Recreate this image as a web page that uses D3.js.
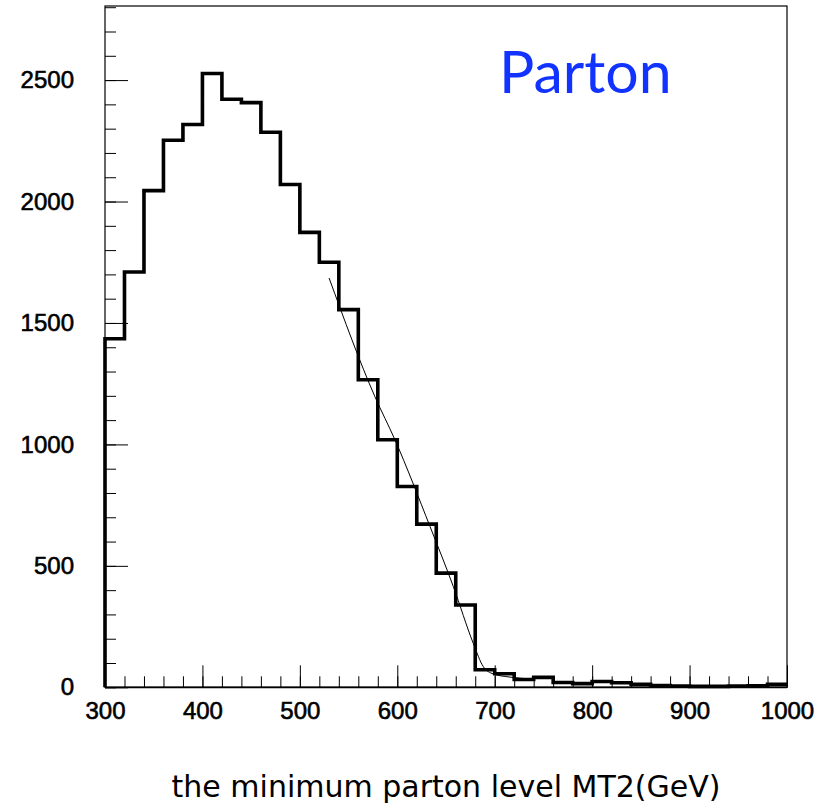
<!DOCTYPE html>
<html>
<head>
<meta charset="utf-8">
<script src="https://cdn.jsdelivr.net/npm/d3@7"></script>
<style>
  html, body { margin: 0; padding: 0; background: #fff; }
  svg { display: block; }
</style>
</head>
<body>
<svg id="chart" width="825" height="810"></svg>
<script>
// ---- data ----
const binStart = 300, binWidth = 20;
const binLows = d3.range(300, 1000, 20);
const counts = [1435, 1710, 2045, 2252, 2317, 2527, 2421, 2407, 2285, 2070,
                1873, 1750, 1555, 1266, 1019, 827, 672, 470, 339, 72,
                56, 32, 41, 20, 15, 24, 19, 12, 7, 5,
                4, 4, 5, 6, 12];
const fitX = [530, 577, 597.6, 633.6, 657.5, 678, 688.3, 698.5, 715.7, 739.3];
const fitY = [1685, 1197, 1019, 662, 415, 181, 85, 55, 42, 34];
const xMajor = [300, 400, 500, 600, 700, 800, 900, 1000];
const xMinor = d3.range(300, 1001, 20);
const yMajor = [0, 500, 1000, 1500, 2000, 2500];
const yMinor = d3.range(0, 2801, 100);
const xTitle = "the minimum parton level MT2(GeV)";
const label = "Parton";

// ---- layout ----
const L = 105, R = 787, T = 6, B = 687.3;
const svg = d3.select("#chart");
const x = d3.scaleLinear().domain([300, 1000]).range([L, R]);
const y = d3.scaleLinear().domain([0, 2805]).range([B, T]);

// frame
svg.append("rect").attr("x", L).attr("y", T).attr("width", R - L).attr("height", B - T)
  .attr("fill", "none").attr("stroke", "#000").attr("stroke-width", 1.2);
svg.append("line").attr("x1", L).attr("x2", R).attr("y1", B).attr("y2", B)
  .attr("stroke", "#000").attr("stroke-width", 1.8);

// y ticks
const gyMinor = svg.append("g").attr("transform", `translate(${L},0)`)
  .call(d3.axisRight(y).tickValues(yMinor).tickSize(11).tickFormat(""));
const gyMajor = svg.append("g").attr("transform", `translate(${L},0)`)
  .call(d3.axisRight(y).tickValues(yMajor).tickSize(23).tickFormat(""));
const gyLab = svg.append("g").attr("transform", `translate(${L},0)`)
  .call(d3.axisLeft(y).tickValues(yMajor).tickSize(0).tickPadding(31).tickFormat(d3.format("d")));
// x ticks
const gxMinor = svg.append("g").attr("transform", `translate(0,${B})`)
  .call(d3.axisTop(x).tickValues(xMinor).tickSize(11).tickFormat(""));
const gxMajor = svg.append("g").attr("transform", `translate(0,${B})`)
  .call(d3.axisTop(x).tickValues(xMajor).tickSize(22).tickFormat(""));
const gxLab = svg.append("g").attr("transform", `translate(0,${B})`)
  .call(d3.axisBottom(x).tickValues(xMajor).tickSize(0).tickPadding(15).tickFormat(d3.format("d")));

[gyMinor, gyMajor, gyLab, gxMinor, gxMajor, gxLab].forEach(g => {
  g.select(".domain").remove();
  g.selectAll(".tick line").attr("stroke", "#000").attr("stroke-width", 1);
  g.selectAll("text").attr("font-family", "'Liberation Sans', Arial, sans-serif")
    .attr("font-size", 24).attr("fill", "#000")
    .attr("stroke", "#000").attr("stroke-width", 0.6);
});

// histogram step path
const pts = [[binStart, 0]];
counts.forEach((c, i) => {
  pts.push([binLows[i], c]);
  pts.push([binLows[i] + binWidth, c]);
});
const line = d3.line().x(d => x(d[0])).y(d => y(d[1]));
svg.append("path").attr("d", line(pts)).attr("fill", "none")
  .attr("stroke", "#000").attr("stroke-width", 3.6).attr("stroke-linejoin", "miter");

// fit curve
const fitPts = fitX.map((v, i) => [v, fitY[i]]);
svg.append("path").attr("d", d3.line().x(d => x(d[0])).y(d => y(d[1])).curve(d3.curveMonotoneX)(fitPts))
  .attr("fill", "none").attr("stroke", "#000").attr("stroke-width", 1);

// label
svg.append("text").attr("x", 499).attr("y", 93).text(label)
  .attr("font-family", "Lato, 'Open Sans', sans-serif").attr("font-size", 59)
  .attr("fill", "#1232ff");

// x title
svg.append("text").attr("x", 446).attr("y", 797).attr("text-anchor", "middle").text(xTitle)
  .attr("font-family", "'DejaVu Sans', sans-serif").attr("font-size", 30).attr("fill", "#000");
</script>
</body>
</html>
